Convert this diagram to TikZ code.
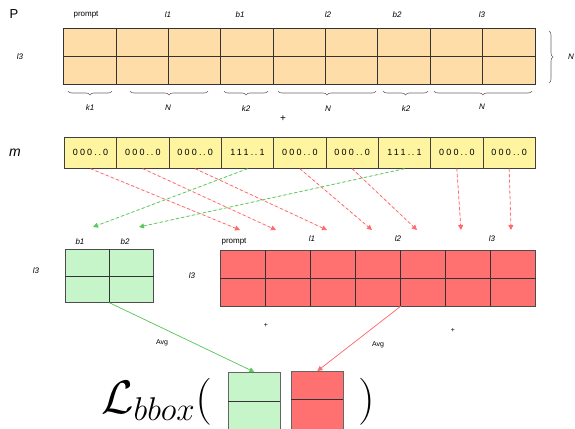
\RequirePackage{fix-cm}
\documentclass[tikz,border=0pt]{standalone}
\usepackage{fontspec}
\setmainfont{Liberation Sans}
\usetikzlibrary{arrows.meta,decorations.pathreplacing}
\definecolor{peach}{HTML}{FFDDA8}
\definecolor{yel}{HTML}{FFF5A0}
\definecolor{lgreen}{HTML}{C5F5C8}
\definecolor{lred}{HTML}{FF7070}
\definecolor{redln}{HTML}{FF6B6B}
\definecolor{greenln}{HTML}{5CC85C}
\newcommand{\zeros}{0\hspace{2.2pt}0\hspace{2.2pt}0\hspace{2.2pt}.\hspace{1.6pt}.\hspace{2.2pt}0}
\newcommand{\ones}{1\hspace{1.6pt}1\hspace{1.6pt}1\hspace{2.2pt}.\hspace{1.6pt}.\hspace{2.2pt}1}
\begin{document}
\begin{tikzpicture}[x=1pt,y=-1pt]
\tikzset{
  lbl/.style={font=\fontsize{8}{9}\selectfont\itshape, inner sep=0pt},
  plain/.style={font=\fontsize{8}{9}\selectfont, inner sep=0pt},
  gridln/.style={draw=black!80, line width=0.7pt},
  ycell/.style={draw=black!75, line width=0.7pt, fill=yel, minimum width=52.33pt,
    minimum height=31pt, inner sep=0pt, anchor=north west, font=\fontsize{9}{9}\selectfont},
  brc/.style={decorate, decoration={brace, amplitude=4pt}, draw=black!60, line width=0.6pt},
  tip/.style={-{Triangle[width=5pt,length=5pt]}},
  redarr/.style={tip, draw=redln, fill=redln, dash pattern=on 3pt off 2.5pt, line width=0.8pt},
  greenarr/.style={tip, draw=greenln, fill=greenln, dash pattern=on 3pt off 2.5pt, line width=0.8pt},
}
\useasboundingbox (0,0) rectangle (575,428);

% ---- P matrix ----
\node[font=\fontsize{13}{14}\selectfont, inner sep=0pt] (P) at (14,14) {P};
\node[lbl] (Prow) at (20,57) {l3};
\fill[peach] (63.5,28) rectangle (535,84);
\draw[gridln] (63.5,28) rectangle (535,84);
\draw[gridln] (63.5,56) -- (535,56);
\foreach \i in {1,...,8} \draw[gridln] ({63.5+52.39*\i},28) -- ({63.5+52.39*\i},84);
\node[plain] (tprompt) at (86,15) {prompt};
\node[lbl] (tl1) at (168,15) {l1};
\node[lbl] (tb1) at (240,15) {b1};
\node[lbl] (tl2) at (328,15) {l2};
\node[lbl] (tb2) at (397,15) {b2};
\node[lbl] (tl3) at (482,15) {l3};
% braces under the groups
\draw[brc, decoration={mirror}] (68,91) -- (112,91);
\draw[brc, decoration={mirror}] (130,91) -- (208,91);
\draw[brc, decoration={mirror}] (224,91) -- (268,91);
\draw[brc, decoration={mirror}] (278,91) -- (376,91);
\draw[brc, decoration={mirror}] (383,91) -- (428,91);
\draw[brc, decoration={mirror}] (434,91) -- (532,91);
\node[lbl] (bk1) at (90,108) {k1};
\node[lbl] (bN1) at (168,108) {N};
\node[lbl] (bk2) at (246,109) {k2};
\node[lbl] (bN2) at (328,109) {N};
\node[lbl] (bk3) at (406,109) {k2};
\node[lbl] (bN3) at (482,107) {N};
\draw[brc] (549,31) -- (549,83);
\node[lbl] (rN) at (571,57) {N};
\node[font=\fontsize{10}{10}\selectfont, inner sep=0pt] (plus1) at (283,119) {+};

% ---- mask row ----
\node[font=\fontsize{14}{14}\selectfont\itshape, inner sep=0pt] (m) at (15,153) {m};
\foreach \i/\t in {1/\zeros, 2/\zeros, 3/\zeros, 4/\ones, 5/\zeros, 6/\zeros, 7/\ones, 8/\zeros, 9/\zeros}
  \node[ycell] (m\i) at ({64+52.33*(\i-1)},137) {\t};

% ---- green (box) matrix ----
\node[lbl] (gl3) at (36,271) {l3};
\node[lbl] (gb1) at (80,242) {b1};
\node[lbl] (gb2) at (125,242) {b2};
\node[fill=lgreen, draw=black!70, line width=0.7pt, minimum width=88pt, minimum height=53pt,
      inner sep=0pt, anchor=north west] (gm) at (65,249) {};
\draw[gridln] (gm.west) -- (gm.east);
\draw[gridln] (gm.north) -- (gm.south);

% ---- red (text) matrix ----
\node[lbl] (rl3) at (192,276) {l3};
\node[plain] (rprompt) at (234,242) {prompt};
\node[lbl] (rl1) at (312,239) {l1};
\node[lbl] (rl2) at (398,239) {l2};
\node[lbl] (rlt3) at (492,239) {l3};
\node[fill=lred, draw=black!70, line width=0.7pt, minimum width=315pt, minimum height=56pt,
      inner sep=0pt, anchor=north west] (rm) at (220,250) {};
\draw[gridln] (rm.west) -- (rm.east);
\foreach \i in {1,...,6} \draw[gridln] ({220+45*\i},250) -- ({220+45*\i},306);
\coordinate (rsrc) at (401,306);

\node[font=\fontsize{7}{7}\selectfont, inner sep=0pt] (plus2) at (266,325) {+};
\node[font=\fontsize{7}{7}\selectfont, inner sep=0pt] (plus3) at (453,330) {+};

% ---- arrow targets ----
\coordinate (g1) at (93,227);
\coordinate (g2) at (139,227);
\coordinate (r1) at (240,230);
\coordinate (r2) at (276,230);
\coordinate (r3) at (327,230);
\coordinate (r4) at (372,230);
\coordinate (r5) at (417,230);
\coordinate (r6) at (461,230);
\coordinate (r7) at (511,230);

\draw[redarr] (m1.south) -- (r1);
\draw[redarr] (m2.south) -- (r2);
\draw[redarr] (m3.south) -- (r3);
\draw[redarr] (m5.south) -- (r4);
\draw[redarr] (m6.south) -- (r5);
\draw[redarr] (m8.south) -- (r6);
\draw[redarr] (m9.south) -- (r7);
\draw[greenarr] (m4.south) -- (g1);
\draw[greenarr] (m7.south) -- (g2);

% ---- loss ----
\node[font=\fontsize{47}{50}\selectfont, inner sep=0pt, anchor=base west] (loss) at (101,413) {$\mathcal{L}_{bbox}($};
\node[font=\fontsize{47}{50}\selectfont, inner sep=0pt, anchor=base west] (close) at (358,413) {$)$};
\node[fill=lgreen, draw=black!60, line width=0.7pt, minimum width=52pt, minimum height=60pt,
      inner sep=0pt, anchor=north west] (gb) at (228,372) {};
\draw[gridln] (228,401) -- (280,401);
\node[fill=lred, draw=black!60, line width=0.7pt, minimum width=52pt, minimum height=60pt,
      inner sep=0pt, anchor=north west] (rb) at (291,371) {};
\draw[gridln] (291,399) -- (343,399);

\draw[tip, draw=greenln, fill=greenln, line width=0.7pt] (gm.south) -- (gb.north);
\draw[tip, draw=redln, fill=redln, line width=0.7pt] (rsrc) -- (rb.north);
\node[font=\fontsize{7}{7}\selectfont, inner sep=0pt] (avg1) at (162,343) {Avg};
\node[font=\fontsize{7}{7}\selectfont, inner sep=0pt] (avg2) at (378,345) {Avg};
\end{tikzpicture}
\end{document}
